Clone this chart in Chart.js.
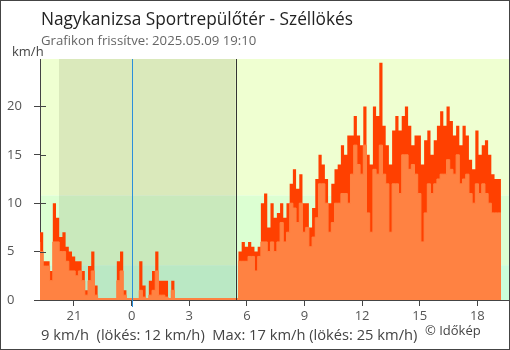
<!DOCTYPE html>
<html>
<head>
<meta charset="utf-8">
<script src="https://cdn.jsdelivr.net/npm/chart.js@4.4.1/dist/chart.umd.min.js"></script>
<style>
html, body { margin: 0; padding: 0; background: #fff; }
#wrap { width: 510px; height: 350px; box-sizing: border-box; border: 1px solid #444; position: relative; }
</style>
</head>
<body>
<div id="wrap"><canvas id="myChart"></canvas></div>
<script>
// 10 perces adatok, 19:14-tol (elozo nap) 19:14-ig
const startHour = 19.23;
const stepHours = 1 / 6;

// szellokes (km/h)
const gust = [
  8, 7, 4, 4, 3, 10, 8.5, 6.5, 7, 5.5,
  5, 4.5, 4, 4, 3, 1, 3.5, 5, 1.5, 0,
  0, 0, 0, 0, 0, 4, 5, 1, 0, 0,
  0, 0, 4, 1.5, 0, 2, 3, 5, 2, 2,
  2, 0, 2, 0, 0, 0, 0, 0, 0, 0,
  0, 0, 0, 0, 0, 0, 0, 0, 0, 0,
  0, 0, 0, 5, 6, 5.5, 6, 5.5, 5, 5.5,
  10, 11, 7.5, 10, 8.5, 9, 10, 8.5, 10, 12,
  13.5, 11.5, 13, 10, 10, 7.5, 9.5, 12.5, 15, 14,
  12.5, 10, 12, 13.5, 14, 16, 15, 17, 17, 19,
  17, 16, 20, 15, 14, 20, 19, 24.5, 18, 16,
  14, 17.5, 19, 17.5, 19, 20, 18, 16, 17, 17,
  14, 16.5, 17.5, 15, 16.5, 18, 19.5, 18, 20, 18.5,
  17, 18, 16, 18, 17, 14.5, 13.5, 17.5, 15, 16,
  16.5, 15, 13, 12.5
];

// atlagszel (km/h)
const wind = [
  6, 5, 3.5, 3.5, 2, 6, 6, 5, 5, 4,
  3, 3, 2.5, 3, 2, 0.5, 2, 3, 0.5, 0,
  0, 0, 0, 0, 0, 2, 3, 0.5, 0, 0,
  0, 0, 1, 0.3, 0, 0.5, 1, 3, 0.5, 0.5,
  0.3, 0, 1, 0, 0, 0, 0, 0, 0, 0,
  0, 0, 0, 0, 0, 0, 0, 0, 0, 0,
  0, 0, 0, 4, 4, 4, 4.5, 4.5, 3, 4.5,
  6, 6, 5, 6, 5, 6, 8, 6, 7, 10,
  9.5, 8, 10, 7, 7.5, 5.5, 6.5, 8.5, 12, 12,
  10, 7, 8, 10, 10, 11, 11, 10, 13, 16,
  14, 13, 16, 9, 7, 13.5, 13, 16, 13, 12,
  7, 12, 12, 11, 15, 15, 13.5, 14, 13, 11,
  6, 9, 12, 11, 12, 12.5, 13, 13, 14.5, 13.5,
  13, 15, 12, 12.5, 13, 11, 10, 12, 11, 12,
  11, 10, 9, 9
];

const xTicks = [21, 24, 27, 30, 33, 36, 39, 42];
const yTicks = [0, 5, 10, 15, 20];
const bandLimits = [3.6, 10.8];
const bandColors = ['#cbfedb', '#dcffd2', '#efffd1'];
const sunset = 20.22;
const sunrise = 29.41;
const midnight = 24;
const windColor = '#ff8242';
const gustColor = '#ff4000';

const titleText = 'Nagykanizsa Sportrepülőtér - Széllökés';
const subText = 'Grafikon frissítve: 2025.05.09 19:10';
const footText = '9 km/h  (lökés: 12 km/h)  Max: 17 km/h (lökés: 25 km/h)';

function toPoints(arr) {
  let pts = arr.map((v, i) => ({ x: startHour + i * stepHours, y: v }));
  pts.push({ x: startHour + arr.length * stepHours, y: arr[arr.length - 1] });
  return pts;
}

const decor = {
  id: 'decor',
  beforeDraw(chart) {
    const { ctx, chartArea: a, scales: { x, y } } = chart;
    ctx.save();
    const yLow = y.getPixelForValue(bandLimits[0]);
    const yMid = y.getPixelForValue(bandLimits[1]);
    ctx.fillStyle = bandColors[2];
    ctx.fillRect(a.left, a.top, a.width, yMid - a.top);
    ctx.fillStyle = bandColors[1];
    ctx.fillRect(a.left, yMid, a.width, yLow - yMid);
    ctx.fillStyle = bandColors[0];
    ctx.fillRect(a.left, yLow, a.width, a.bottom - yLow);
    const xs = x.getPixelForValue(sunset), xr = x.getPixelForValue(sunrise);
    ctx.fillStyle = 'rgba(40,40,0,0.1)';
    ctx.fillRect(xs, a.top, xr - xs, a.height);
    ctx.restore();
  },
  afterDatasetsDraw(chart) {
    // nulla ertekek is latszanak egy vekony savval
    const { ctx, chartArea: a, scales: { x } } = chart;
    const x0 = x.getPixelForValue(startHour);
    const x1 = x.getPixelForValue(startHour + wind.length * stepHours);
    ctx.save();
    ctx.fillStyle = windColor;
    ctx.fillRect(x0, a.bottom - 2, x1 - x0, 2);
    ctx.restore();
  },
  afterDraw(chart) {
    const { ctx, chartArea: a, scales: { x, y } } = chart;
    ctx.save();
    // ejfel es napkelte
    let xm = Math.round(x.getPixelForValue(midnight)) + 0.5;
    ctx.strokeStyle = '#2b8fdc';
    ctx.lineWidth = 1;
    ctx.beginPath(); ctx.moveTo(xm, a.top); ctx.lineTo(xm, a.bottom + 7); ctx.stroke();
    let xr = Math.round(x.getPixelForValue(sunrise)) + 0.5;
    ctx.strokeStyle = '#333';
    ctx.beginPath(); ctx.moveTo(xr, a.top); ctx.lineTo(xr, a.bottom); ctx.stroke();
    // y tick befele
    ctx.strokeStyle = '#444';
    yTicks.forEach(v => {
      let py = Math.round(y.getPixelForValue(v)) + 0.5;
      ctx.beginPath(); ctx.moveTo(a.left, py); ctx.lineTo(a.left + 6, py); ctx.stroke();
    });
    // feliratok
    ctx.textBaseline = 'alphabetic';
    ctx.textAlign = 'left';
    ctx.fillStyle = '#222';
    ctx.font = "17.3px 'Open Sans'";
    ctx.fillText(titleText, 40, 24);
    ctx.fillStyle = '#666';
    ctx.font = "13.2px 'Open Sans'";
    ctx.fillText(subText, 40, 44);
    ctx.fillStyle = '#444';
    ctx.font = "13px 'Open Sans'";
    ctx.fillText('km/h', 11, 55);
    ctx.font = "14.7px 'Open Sans'";
    ctx.fillText(footText, 40, 339);
    ctx.font = "13px 'Open Sans'";
    ctx.fillText('© Időkép', 424, 334);
    ctx.restore();
  }
};

Chart.defaults.font.family = "'Open Sans', sans-serif";
Chart.defaults.font.size = 13;
Chart.defaults.color = '#555';

const ctx = document.getElementById('myChart').getContext('2d');
const myChart = new Chart(ctx, {
  type: 'line',
  data: {
    datasets: [{
      label: 'Szél',
      data: toPoints(wind),
      stepped: 'after',
      fill: 'origin',
      backgroundColor: windColor,
      borderColor: windColor,
      borderWidth: 1,
      pointRadius: 0
    },
    {
      label: 'Széllökés',
      data: toPoints(gust),
      stepped: 'after',
      fill: 'origin',
      backgroundColor: gustColor,
      borderColor: gustColor,
      borderWidth: 0,
      pointRadius: 0
    }]
  },
  options: {
    responsive: true,
    maintainAspectRatio: false,
    animation: false,
    layout: { padding: { left: 6, right: 0, top: 58, bottom: 29 } },
    plugins: { legend: { display: false }, tooltip: { enabled: false } },
    scales: {
      x: {
        type: 'linear',
        min: startHour,
        max: 43.65,
        z: 1,
        afterFit: s => { s.height = 20; },
        afterBuildTicks: s => { s.ticks = xTicks.map(v => ({ value: v })); },
        ticks: { autoSkip: false, maxRotation: 0, padding: 2, callback: v => String(v % 24) },
        grid: { drawOnChartArea: false, tickLength: 6, color: '#444' },
        border: { color: '#444', width: 1 }
      },
      y: {
        min: 0,
        max: 24.9,
        z: 1,
        afterFit: s => { s.width = 33; },
        afterBuildTicks: s => { s.ticks = yTicks.map(v => ({ value: v })); },
        ticks: { crossAlign: 'far', padding: 2 },
        grid: { drawOnChartArea: false, tickLength: 6, color: '#444' },
        border: { color: '#444', width: 1 }
      }
    }
  },
  plugins: [decor]
});
</script>
</body>
</html>
